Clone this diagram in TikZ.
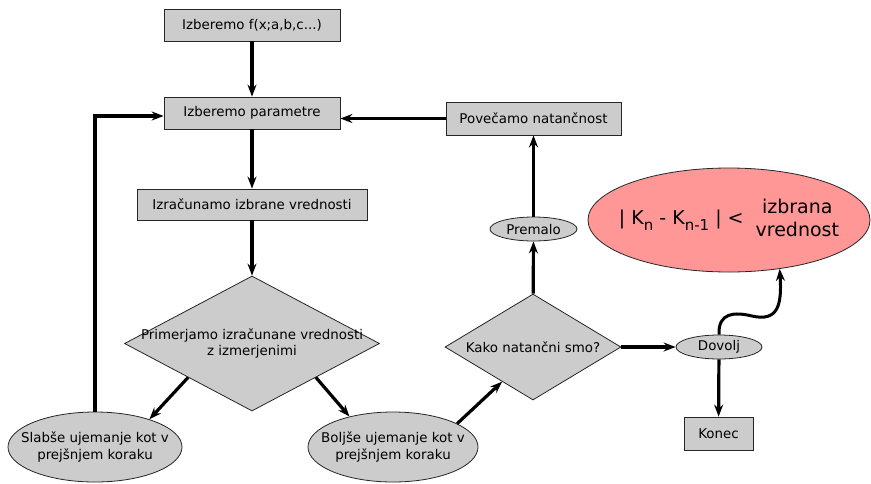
\documentclass[tikz,border=0pt]{standalone}
\usepackage{fontspec}
\setmainfont{DejaVu Sans}
\usetikzlibrary{shapes.geometric,arrows.meta,calc}
\definecolor{boxgray}{HTML}{CCCCCC}
\definecolor{redfill}{HTML}{FF9797}
\newcommand{\lowidx}[1]{\raisebox{-6pt}{\fontsize{15}{15}\selectfont #1}}

\begin{document}
\begin{tikzpicture}[x=1pt,y=-1pt,
    every node/.style={font=\fontsize{13.4}{16.5}\selectfont},
    box/.style={rectangle,draw=black!85,line width=0.8pt,fill=boxgray,minimum height=32,inner sep=0pt},
    oval/.style={ellipse,draw=black!85,line width=0.8pt,fill=boxgray,inner sep=0pt},
    decision/.style={diamond,draw=black!85,line width=0.8pt,fill=boxgray,inner sep=0pt},
    tt/.style={label={[align=center]center:#1}},
    arr/.style={-{Stealth[length=12pt,width=9pt,inset=4pt]},line width=3.2pt}]
      \useasboundingbox (0,0) rectangle (871,483);

      \node [box,minimum width=176] (f) at (252,25) {Izberemo f(x;a,b,c...)};
      \node [box,minimum width=176] (par) at (252,113) {Izberemo parametre};
      \node [box,minimum width=230,minimum height=31] (calc) at (252,204.5) {Izračunamo izbrane vrednosti};
      \node [decision,minimum width=255,minimum height=135,
             tt={Primerjamo izračunane vrednosti\\z izmerjenimi}] (cmp) at (252,343.5) {};
      \node [oval,minimum width=174,minimum height=70,
             tt={Slabše ujemanje kot v\\prejšnjem koraku}] (slab) at (95,447) {};
      \node [oval,minimum width=170,minimum height=70,
             tt={Boljše ujemanje kot v\\prejšnjem koraku}] (bolj) at (393,447) {};
      \node [decision,minimum width=176,minimum height=106,
             tt={Kako natančni smo?}] (kako) at (533,347) {};
      \node [oval,minimum width=87,minimum height=24] (prem) at (533.5,229) {Premalo};
      \node [box,minimum width=175,minimum height=33] (pov) at (533.5,118.5) {Povečamo natančnost};
      \node [oval,minimum width=86,minimum height=24] (dov) at (719,347) {Dovolj};
      \node [box,minimum width=69,minimum height=33] (kon) at (718.5,433.5) {Konec};
      \node [ellipse,draw=black!85,line width=0.8pt,fill=redfill,minimum width=282,minimum height=104,
             label={[align=center]center:{\fontsize{19}{23}\selectfont
             | K\lowidx{n} - K\lowidx{n-1} | <\hspace{12pt}\begin{tabular}{@{}c@{}}izbrana\\vrednost\end{tabular}}}]
             (big) at (729,220) {};

      \draw[arr] (f) -- (par);
      \draw[arr] (par) -- (calc);
      \draw[arr] (calc) -- (cmp);
      \draw[arr] (cmp.south west) -- (slab.27);
      \draw[arr] (cmp.south east) -- (bolj.145);
      \draw[arr] (slab.north) |- ([yshift=-3pt]par.west);
      \draw[arr] (bolj.20) -- ($(kako.west)!0.65!(kako.south)$);
      \draw[arr] (kako) -- (prem);
      \draw[arr] (prem) -- (pov);
      \draw[arr] (pov) -- (pov -| par.east);
      \draw[arr] (kako) -- (dov);
      \draw[arr] (dov) -- (kon);
      \draw[arr,line width=3pt] (dov.north) .. controls (718,312) and (735,312) .. (752,316)
            .. controls (778,322) and (782,305) .. (big.-44);
    \end{tikzpicture}
\end{document}
